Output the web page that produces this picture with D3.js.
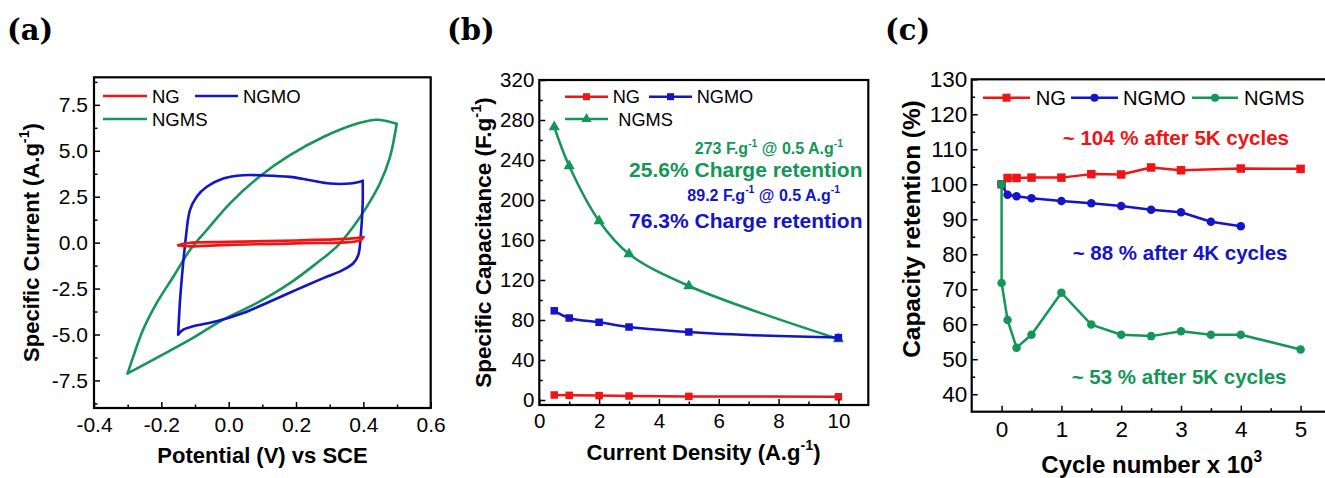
<!DOCTYPE html>
<html>
<head>
<meta charset="utf-8">
<script src="https://cdn.jsdelivr.net/npm/d3@7"></script>
<style>
	body { margin: 0; background: #fff; }
	svg { display: block; }
	text { font-family: "Liberation Sans", Arial, sans-serif; }
</style>
</head>
<body>
<svg id="fig" width="1325" height="478"></svg>
<script>

// ---- (a) CV loops, [potential V, current A/g], anodic then cathodic branch
const cvNgUp = [[-0.15, -0.14], [-0.12, -0.02], [0.0, 0.04], [0.2, 0.12], [0.36, 0.22], [0.4, 0.3]];
const cvNgDown = [[0.4, 0.3], [0.39, 0.12], [0.2, -0.04], [0.0, -0.12], [-0.12, -0.2], [-0.15, -0.14]];

const cvNgmoUp = [[-0.150, -5.0], [-0.145, -3.29], [-0.137, -1.48], [-0.127, 0.33], [-0.115, 1.77],
	[-0.095, 2.5], [-0.065, 3.04], [-0.016, 3.49], [0.043, 3.67], [0.103, 3.66], [0.182, 3.58],
	[0.242, 3.4], [0.301, 3.22], [0.36, 3.22], [0.398, 3.36]];
const cvNgmoDown = [[0.398, 3.36], [0.398, 2.14], [0.392, 0.33], [0.385, -0.67], [0.37, -1.12],
	[0.34, -1.48], [0.281, -1.93], [0.202, -2.56], [0.123, -3.2], [0.043, -3.83], [-0.036, -4.28],
	[-0.105, -4.55], [-0.135, -4.73], [-0.150, -5.0]];

const cvNgmsUp = [[-0.3, -7.12], [-0.283, -6.18], [-0.254, -4.73], [-0.214, -3.29], [-0.164, -1.84],
	[-0.115, -0.4], [-0.065, 0.69], [0.004, 2.14], [0.093, 3.62], [0.182, 4.76], [0.281, 5.75],
	[0.38, 6.47], [0.44, 6.69], [0.499, 6.47]];
const cvNgmsDown = [[0.499, 6.47], [0.479, 4.66], [0.449, 3.22], [0.41, 1.95], [0.37, 0.87],
	[0.321, -0.22], [0.261, -1.12], [0.182, -2.2], [0.083, -3.29], [-0.016, -4.19], [-0.115, -5.28],
	[-0.214, -6.27], [-0.3, -7.12]];

const aXTicks = [-0.4, -0.2, 0.0, 0.2, 0.4, 0.6];
const aXMinor = [-0.3, -0.1, 0.1, 0.3, 0.5];
const aYTicks = [-7.5, -5.0, -2.5, 0.0, 2.5, 5.0, 7.5];
const aYMinor = [-8.75, -6.25, -3.75, -1.25, 1.25, 3.75, 6.25, 8.75];

// ---- (b) rate capability
const currentDensity = [0.5, 1, 2, 3, 5, 10];
const capNg = [5.0, 4.7, 4.4, 4.0, 3.6, 3.2];
const capNgmo = [89.2, 82, 77.7, 73, 68, 62.4];
const capNgms = [273, 234, 179, 146, 114, 61];

const bXTicks = [0, 2, 4, 6, 8, 10];
const bXMinor = [1, 3, 5, 7, 9];
const bYTicks = [0, 40, 80, 120, 160, 200, 240, 280, 320];
const bYMinor = [20, 60, 100, 140, 180, 220, 260, 300];

// ---- (c) cycling stability, cycle number x 10^3
const cyclesNg = [0, 0.1, 0.25, 0.5, 1, 1.5, 2, 2.5, 3, 4, 5];
const retNg = [100, 101.8, 101.8, 101.9, 101.9, 102.9, 102.8, 104.8, 104.0, 104.5, 104.4];
const cyclesNgmo = [0, 0.1, 0.25, 0.5, 1, 1.5, 2, 2.5, 3, 3.5, 4];
const retNgmo = [100, 97.0, 96.6, 96.0, 95.2, 94.6, 93.8, 92.7, 92.0, 89.3, 88.0];
const cyclesNgms = [0, 0, 0.1, 0.25, 0.5, 1, 1.5, 2, 2.5, 3, 3.5, 4, 5];
const retNgms = [100, 71.8, 61.2, 53.3, 57.0, 69.0, 59.9, 57.0, 56.6, 58.0, 57.0, 57.0, 52.8];

const cXTicks = [0, 1, 2, 3, 4, 5];
const cXMinor = [0.5, 1.5, 2.5, 3.5, 4.5];
const cYTicks = [40, 50, 60, 70, 80, 90, 100, 110, 120, 130];
const cYMinor = [45, 55, 65, 75, 85, 95, 105, 115, 125];

const RED = "#f01414", BLUE = "#1414c8", GREEN = "#149658";

const svg = d3.select("#fig");

// text with optional superscript parts: [["text"], ["-1", true], ...]
function richText(sel, parts, fs) {
	let up = false;
	parts.forEach(([t, sup]) => {
		const ts = sel.append("tspan").text(t);
		if (sup && !up) { ts.attr("font-size", fs * 0.65).attr("dy", -fs * 0.45); up = true; }
		else if (!sup && up) { ts.attr("dy", fs * 0.45); up = false; }
	});
	return sel;
}

function frame(g, x, y, o) {
	const [x0, x1] = x.range();
	const [y0, y1] = y.range();
	const styleAxis = s => {
		s.select(".domain").remove();
		s.attr("font-size", o.tickFs).attr("font-family", '"Liberation Sans", Arial, sans-serif');
		s.selectAll(".tick line").attr("stroke-width", 1.5);
	};
	g.append("g").attr("transform", `translate(0,${y0})`)
		.call(d3.axisBottom(x).tickValues(o.xTicks).tickSize(-6).tickPadding(o.xPad).tickFormat(o.xFmt))
		.call(styleAxis);
	g.append("g").attr("transform", `translate(0,${y0})`)
		.call(d3.axisBottom(x).tickValues(o.xMinor).tickSize(-3.5).tickFormat(""))
		.call(styleAxis);
	g.append("g").attr("transform", `translate(${x0},0)`)
		.call(d3.axisLeft(y).tickValues(o.yTicks).tickSize(-6).tickPadding(o.yPad).tickFormat(o.yFmt))
		.call(styleAxis);
	g.append("g").attr("transform", `translate(${x0},0)`)
		.call(d3.axisLeft(y).tickValues(o.yMinor).tickSize(-3.5).tickFormat(""))
		.call(styleAxis);
	g.append("rect")
		.attr("x", x0).attr("y", y1)
		.attr("width", x1 - x0).attr("height", y0 - y1)
		.attr("fill", "none").attr("stroke", "#000").attr("stroke-width", 2.2);
}

function marker(g, shape, cx, cy, color, size) {
	if (shape === "square") {
		g.append("rect").attr("x", cx - size / 2).attr("y", cy - size / 2)
			.attr("width", size).attr("height", size).attr("fill", color);
	} else if (shape === "circle") {
		g.append("circle").attr("cx", cx).attr("cy", cy).attr("r", size / 2).attr("fill", color);
	} else {
		g.append("path").attr("transform", `translate(${cx},${cy})`)
			.attr("d", d3.symbol(d3.symbolTriangle, size * size * 0.45)()).attr("fill", color);
	}
}

function panelLabel(txt, x) {
	svg.append("text").attr("x", x).attr("y", 40)
		.style("font-family", '"DejaVu Serif", serif').attr("font-weight", "bold")
		.attr("font-size", 29).text(txt);
}

function axisTitleX(parts, cx, y, fs) {
	richText(svg.append("text").attr("x", cx).attr("y", y).attr("text-anchor", "middle")
		.attr("font-weight", "bold").attr("font-size", fs), parts, fs);
}

function axisTitleY(parts, x, cy, fs) {
	richText(svg.append("text").attr("transform", `translate(${x},${cy}) rotate(-90)`)
		.attr("text-anchor", "middle").attr("font-weight", "bold").attr("font-size", fs), parts, fs);
}

function legendItem(g, x0, x1, y, color, shape, msize, label, tx, fs) {
	g.append("line").attr("x1", x0).attr("x2", x1).attr("y1", y).attr("y2", y)
		.attr("stroke", color).attr("stroke-width", 2.5);
	if (shape) marker(g, shape, (x0 + x1) / 2, y, color, msize);
	g.append("text").attr("x", tx).attr("y", y).attr("dy", "0.36em")
		.attr("font-size", fs).text(label);
}

// ================= (a) =================
{
	const g = svg.append("g");
	const x = d3.scaleLinear().domain([-0.4, 0.6]).range([94, 430.7]);
	const y = d3.scaleLinear().domain([-9, 9]).range([408, 77.3]);
	const line = d3.line().x(d => x(d[0])).y(d => y(d[1])).curve(d3.curveCatmullRom.alpha(0.5));

	[[cvNgmsUp, cvNgmsDown, GREEN], [cvNgmoUp, cvNgmoDown, BLUE], [cvNgUp, cvNgDown, RED]]
		.forEach(([up, down, c]) => {
			[up, down].forEach(br => g.append("path").attr("d", line(br)).attr("fill", "none")
				.attr("stroke", c).attr("stroke-width", 2.6).attr("stroke-linejoin", "round")
				.attr("stroke-linecap", "round"));
		});

	frame(g, x, y, {
		xTicks: aXTicks, xMinor: aXMinor, yTicks: aYTicks, yMinor: aYMinor,
		xFmt: d => d.toFixed(1), yFmt: d => d.toFixed(1), xPad: 9, yPad: 6, tickFs: 21
	});

	legendItem(g, 103, 147, 96, RED, null, 0, "NG", 152, 18.5);
	legendItem(g, 195, 238, 96, BLUE, null, 0, "NGMO", 243, 18.5);
	legendItem(g, 103, 147, 119, GREEN, null, 0, "NGMS", 152, 18.5);

	panelLabel("(a)", 7);
	axisTitleX([["Potential (V) vs SCE"]], 262.5, 462.5, 22);
	axisTitleY([["Specific Current (A.g"], ["-1", true], [")"]], 38.5, 242.5, 22);
}

// ================= (b) =================
{
	const g = svg.append("g");
	const x = d3.scaleLinear().domain([0, 11]).range([539.3, 868.3]);
	const y = d3.scaleLinear().domain([-5, 320]).range([405, 80]);

	const series = [
		[capNgms, GREEN, "triangle", 11, d3.curveCatmullRom.alpha(0.5)],
		[capNgmo, BLUE, "square", 7.5, d3.curveMonotoneX],
		[capNg, RED, "square", 7.5, d3.curveLinear]
	];
	series.forEach(([vals, c, shape, ms, curve]) => {
		const pts = currentDensity.map((v, i) => [v, vals[i]]);
		g.append("path")
			.attr("d", d3.line().x(d => x(d[0])).y(d => y(d[1])).curve(curve)(pts))
			.attr("fill", "none").attr("stroke", c).attr("stroke-width", 2.5);
		pts.forEach(p => marker(g, shape, x(p[0]), y(p[1]), c, ms));
	});

	frame(g, x, y, {
		xTicks: bXTicks, xMinor: bXMinor, yTicks: bYTicks, yMinor: bYMinor,
		xFmt: d3.format("d"), yFmt: d3.format("d"), xPad: 8.5, yPad: 5, tickFs: 20.5
	});

	legendItem(g, 565, 608, 96.7, RED, "square", 7, "NG", 612.7, 18.2);
	legendItem(g, 649, 692, 96.7, BLUE, "square", 7, "NGMO", 696.7, 18.2);
	legendItem(g, 565, 608, 119, GREEN, "triangle", 10, "NGMS", 618.3, 18.2);

	const note = (parts, xe, yb, fs, c) => richText(g.append("text").attr("x", xe).attr("y", yb)
		.attr("text-anchor", "end").attr("font-weight", "bold").attr("font-size", fs)
		.attr("fill", c), parts, fs);
	note([["273 F.g"], ["-1", true], [" @ 0.5 A.g"], ["-1", true]], 843, 154, 16, GREEN);
	note([["25.6% Charge retention"]], 862.5, 176.5, 21, GREEN);
	note([["89.2 F.g"], ["-1", true], [" @ 0.5 A.g"], ["-1", true]], 840, 200.5, 16, BLUE);
	note([["76.3% Charge retention"]], 862.5, 228, 21, BLUE);

	panelLabel("(b)", 447);
	axisTitleX([["Current Density (A.g"], ["-1", true], [")"]], 703.5, 459.5, 22);
	axisTitleY([["Specific Capacitance (F.g"], ["-1", true], [")"]], 491, 242.5, 22.5);
}

// ================= (c) =================
{
	const g = svg.append("g");
	const x = d3.scaleLinear().domain([-0.5, 5.5]).range([971.7, 1330.5]);
	const y = d3.scaleLinear().domain([35, 130]).range([411.7, 79.3]);

	const series = [
		[cyclesNgms, retNgms, GREEN, "circle"],
		[cyclesNgmo, retNgmo, BLUE, "circle"],
		[cyclesNg, retNg, RED, "square"]
	];
	// draw in reverse so green stays on top like the reference
	series.slice().reverse().forEach(([xs, vals, c, shape]) => {
		const pts = xs.map((v, i) => [v, vals[i]]);
		g.append("path")
			.attr("d", d3.line().x(d => x(d[0])).y(d => y(d[1]))(pts))
			.attr("fill", "none").attr("stroke", c).attr("stroke-width", 2.5)
			.attr("stroke-linejoin", "round");
		pts.forEach(p => marker(g, shape, x(p[0]), y(p[1]), c, 8.5));
	});

	frame(g, x, y, {
		xTicks: cXTicks, xMinor: cXMinor, yTicks: cYTicks, yMinor: cYMinor,
		xFmt: d3.format("d"), yFmt: d3.format("d"), xPad: 9, yPad: 4.5, tickFs: 22.5
	});

	legendItem(g, 983, 1030, 97.7, RED, "square", 8, "NG", 1035.7, 20.2);
	legendItem(g, 1071, 1118, 97.7, BLUE, "circle", 8, "NGMO", 1123, 20.2);
	legendItem(g, 1192, 1238, 97.7, GREEN, "circle", 8, "NGMS", 1244, 20.2);

	const note = (txt, xe, yb, c) => g.append("text").attr("x", xe).attr("y", yb)
		.attr("text-anchor", "end").attr("font-weight", "bold").attr("font-size", 20.5)
		.attr("fill", c).text(txt);
	note("~ 104 % after 5K cycles", 1289, 145, RED);
	note("~ 88 % after 4K cycles", 1287.5, 259.5, BLUE);
	note("~ 53 % after 5K cycles", 1286.5, 384, GREEN);

	panelLabel("(c)", 885);
	axisTitleX([["Cycle number x 10"], ["3", true]], 1151.7, 473, 24);
	axisTitleY([["Capacity retention (%)"]], 919.5, 229, 24.4);
}
</script>
</body>
</html>
